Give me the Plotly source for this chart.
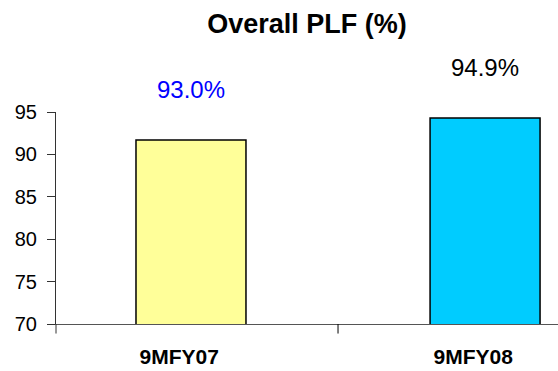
import plotly.graph_objects as go

categories = ["9MFY07", "9MFY08"]
bar_values = [91.7, 94.3]
label_values = [93.0, 94.9]
bar_colors = ["#FFFF99", "#00CCFF"]
label_colors = ["#0000FF", "#000000"]
label_y_paper = [1.104, 1.212]

fig = go.Figure()
fig.add_trace(go.Bar(
    x=[0, 1], y=bar_values, base=0,
    marker=dict(color=bar_colors, line=dict(color="#000000", width=1.5)),
    width=0.374,
))
for i, (v, c, yp) in enumerate(zip(label_values, label_colors, label_y_paper)):
    fig.add_annotation(x=i, y=yp, xref="x", yref="paper", text=f"{v:.1f}%",
                       showarrow=False, yanchor="middle",
                       font=dict(size=24, color=c,
                                 family="Liberation Sans, Arial, sans-serif"))

fig.update_layout(
    width=558, height=371,
    margin=dict(l=56, r=0, t=112, b=47),
    paper_bgcolor="white", plot_bgcolor="white",
    showlegend=False,
    font=dict(family="Liberation Sans, Arial, sans-serif", color="#000000"),
    title=dict(text="<b>Overall PLF (%)</b>", x=0.55, xanchor="center",
               y=1 - 24 / 371, yanchor="middle", font=dict(size=27)),
    xaxis=dict(range=[-0.459, 1.248], tickvals=[-0.04, 0.96],
               ticktext=[f"<b>{c}</b>" for c in categories],
               showline=True, linecolor="#555555", linewidth=1,
               ticks="", showgrid=False, zeroline=False,
               tickfont=dict(size=21), ticklabelstandoff=14),
    yaxis=dict(range=[70, 95], tickvals=[70, 75, 80, 85, 90, 95],
               showline=True, linecolor="#333333", linewidth=1,
               ticks="outside", ticklen=8, tickcolor="#333333",
               showgrid=False, zeroline=False, tickfont=dict(size=20),
               ticklabelstandoff=6),
)
# category boundary ticks
fig.add_shape(type="line", xref="x", yref="paper", x0=0.5, x1=0.5, y0=0, y1=-0.045,
              line=dict(color="#000000", width=1))
fig.add_shape(type="line", xref="paper", yref="paper", x0=0, x1=0, y0=0, y1=-0.045,
              line=dict(color="#333333", width=1))
fig.write_html("out.html", config={"displayModeBar": False},
               post_script="document.body.style.margin='0';")
